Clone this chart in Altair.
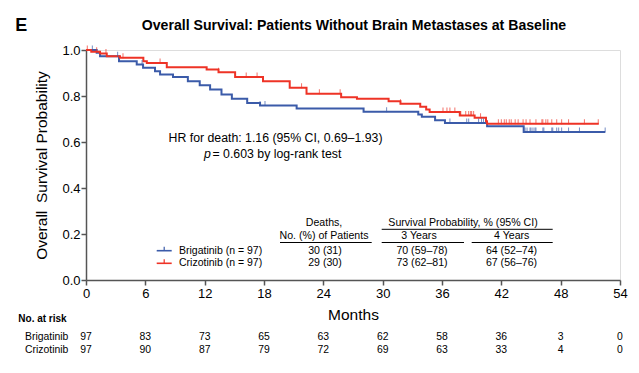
import altair as alt
import pandas as pd

# ---------------- data ----------------
series = ["Brigatinib", "Crizotinib"]
colors = ["#3b5ba9", "#ee3326"]

brig_months = [0, 1.08, 1.42, 3.34, 5.13, 5.77, 6.98, 7.49, 8.8, 10.3, 11.5, 12.55, 13.7,
               14.75, 16.3, 17.6, 21.3, 28.07, 33.6, 33.96, 35.3, 36.3, 40.56, 44.26, 52.5]
brig_surv = [1.0, 0.988, 0.973, 0.951, 0.937, 0.923, 0.908, 0.893, 0.883, 0.864, 0.847, 0.828,
             0.807, 0.788, 0.770, 0.759, 0.746, 0.731, 0.720, 0.710, 0.695, 0.683, 0.669, 0.643, 0.643]

criz_months = [0, 0.53, 1.42, 2.1, 3.44, 5.8, 6.15, 8.17, 12.2, 13.4, 15.08, 17.9, 20.6, 22.3,
               25.8, 27.4, 30.6, 31.8, 33.8, 34.4, 34.75, 37.8, 39.3, 40.45, 40.55, 51.85]
criz_surv = [1.0, 0.992, 0.985, 0.973, 0.966, 0.951, 0.944, 0.925, 0.915, 0.903, 0.883, 0.864,
             0.836, 0.810, 0.795, 0.788, 0.777, 0.766, 0.753, 0.741, 0.730, 0.715, 0.705, 0.690,
             0.679, 0.679]

brig_censor = [0.64, 3.2, 5.67, 17.6, 18.1, 30.4, 36.8, 38.5, 38.7, 39.7, 40.0, 40.2, 44.4, 44.6,
               44.9, 45.0, 45.2, 45.4, 45.5, 46.2, 46.3, 47.1, 47.2, 47.6, 47.8, 48.1, 48.8,
               49.9, 52.5]
criz_censor = [0.13, 1.08, 2.02, 3.74, 7.49, 13.4, 16.2, 17.3, 21.8, 23.6, 25.7, 31.8, 36.1, 36.5,
               36.8, 37.3, 37.9, 38.4, 38.7, 38.9, 39.0, 39.2, 39.9, 41.7, 42.0, 42.3, 42.5, 42.8,
               43.0, 43.4, 43.7, 44.2, 44.5, 44.9, 45.5, 46.1, 46.2, 46.5, 46.7, 47.1, 47.6,
               48.1, 48.8, 50.4, 51.8]

x_ticks = [0, 6, 12, 18, 24, 30, 36, 42, 48, 54]
y_ticks = [0.0, 0.1, 0.2, 0.3, 0.4, 0.5, 0.6, 0.7, 0.8, 0.9, 1.0]
risk_brig = [97, 83, 73, 65, 63, 62, 58, 36, 3, 0]
risk_criz = [97, 90, 87, 79, 72, 69, 63, 33, 4, 0]

title_text = "Overall Survival: Patients Without Brain Metastases at Baseline"
legend_labels = ["Brigatinib (n = 97)", "Crizotinib (n = 97)"]
deaths = ["30 (31)", "29 (30)"]
yr3 = ["70 (59\u201378)", "73 (62\u201381)"]
yr4 = ["64 (52\u201374)", "67 (56\u201376)"]

FONT = "Liberation Sans"

# ---------------- tables ----------------
curve_df = pd.concat([
    pd.DataFrame({"month": brig_months, "surv": brig_surv, "series": series[0]}),
    pd.DataFrame({"month": criz_months, "surv": criz_surv, "series": series[1]}),
])


def step_value(times, survs, t):
    idx = max(i for i, m in enumerate(times) if m <= t)
    return survs[idx]


censor_df = pd.concat([
    pd.DataFrame({"month": brig_censor,
                  "surv": [step_value(brig_months, brig_surv, t) for t in brig_censor],
                  "series": series[0]}),
    pd.DataFrame({"month": criz_censor,
                  "surv": [step_value(criz_months, criz_surv, t) for t in criz_censor],
                  "series": series[1]}),
])

color = alt.Color("series:N", scale=alt.Scale(domain=series, range=colors), legend=None)

x_enc = alt.X("month:Q",
              scale=alt.Scale(domain=[0, 54], nice=False),
              axis=alt.Axis(values=x_ticks, title="Months", titleFontSize=15.5,
                            titleFontWeight="normal", labelFontSize=13, tickSize=5,
                            labelPadding=2, titlePadding=7, domainColor="#555",
                            tickColor="#555", domainWidth=1.5, tickWidth=1.5, grid=False,
                            labelColor="black", titleColor="black", labelFlush=False))
y_enc = alt.Y("surv:Q",
              scale=alt.Scale(domain=[0, 1], nice=False),
              axis=alt.Axis(values=y_ticks,
                            labelExpr="round(datum.value*10) % 2 == 0 ? format(datum.value, '.1f') : ''",
                            title="Overall\u2002Survival Probability", titleFontSize=15.5,
                            titleFontWeight="normal", labelFontSize=13, tickSize=5,
                            labelPadding=1, titlePadding=12, domainColor="#555",
                            tickColor="#555", domainWidth=1.5, tickWidth=1.5, grid=False,
                            labelColor="black", titleColor="black"))

lines = alt.Chart(curve_df).mark_line(interpolate="step-after", strokeWidth=2).encode(
    x=x_enc, y=y_enc, color=color)

ticks = alt.Chart(censor_df).mark_tick(orient="vertical", size=5, thickness=1, yOffset=-2).encode(
    x="month:Q", y="surv:Q", color=color)


def txt(s, x, y, size=10, weight="normal", align="center", style="normal"):
    return alt.Chart(pd.DataFrame({"t": [s]})).mark_text(
        fontSize=size, fontWeight=weight, align=align, baseline="middle",
        font=FONT, color="black", fontStyle=style).encode(
        x=alt.value(x), y=alt.value(y), text="t:N")


def hline(x1, x2, y, col="black", w=1.0):
    return alt.Chart(pd.DataFrame({"a": [0]})).mark_rule(color=col, strokeWidth=w).encode(
        x=alt.value(x1), x2=alt.value(x2), y=alt.value(y))


def vline(x, y1, y2, col="black", w=1.0):
    return alt.Chart(pd.DataFrame({"a": [0]})).mark_rule(color=col, strokeWidth=w).encode(
        x=alt.value(x), y=alt.value(y1), y2=alt.value(y2))


layers = [lines, ticks]

# title and panel letter
layers.append(txt(title_text, 268, -24, size=14.1, weight="bold"))
layers.append(txt("E", -64.7, -24, size=18, weight="bold"))

# HR annotation
layers.append(txt("HR for death: 1.16 (95% CI, 0.69\u20131.93)", 189.5, 88, size=12.3))
layers.append(txt("p", 118, 104, size=12.3, align="left", style="italic"))
layers.append(txt("= 0.603 by log-rank test", 126.5, 104, size=12.3, align="left"))

# legend
for i in range(2):
    yy = 200.7 + 12.6 * i
    layers.append(hline(70.7, 85.7, yy, col=colors[i], w=1.6))
    layers.append(vline(78.2, yy - 4, yy, col=colors[i], w=1.2))
    layers.append(txt(legend_labels[i], 93, yy, size=10.5, align="left"))

# summary table
TS = 10.6
layers.append(txt("Deaths,", 238, 173.3, size=TS))
layers.append(txt("No. (%) of Patients", 238, 186, size=TS))
layers.append(hline(194, 285.7, 192.5))
layers.append(txt("Survival Probability, % (95% CI)", 377, 173.3, size=TS))
layers.append(hline(295.7, 466.7, 179.3))
layers.append(txt("3 Years", 333, 186, size=TS))
layers.append(hline(295.7, 378, 192.5))
layers.append(txt("4 Years", 425.7, 186, size=TS))
layers.append(hline(385.7, 466.7, 192.5))
for i in range(2):
    yy = 200.7 + 12.6 * i
    layers.append(txt(deaths[i], 239, yy, size=TS))
    layers.append(txt(yr3[i], 336, yy, size=TS))
    layers.append(txt(yr4[i], 425.5, yy, size=TS))

# number at risk
layers.append(txt("No. at risk", -67.7, 269.3, size=10, weight="bold", align="left"))
for i, (name, vals) in enumerate([(series[0], risk_brig), (series[1], risk_criz)]):
    yy = 286.7 + 13.3 * i
    layers.append(txt(name, -61, yy, size=10.4, align="left"))
    rdf = pd.DataFrame({"month": x_ticks, "n": [str(v) for v in vals]})
    layers.append(alt.Chart(rdf).mark_text(fontSize=10.4, font=FONT, color="black",
                                           baseline="middle", align="center").encode(
        x="month:Q", y=alt.value(yy), text="n:N"))

chart = alt.layer(*layers).properties(
    width=534, height=230,
    autosize=alt.AutoSizeParams(type="none"),
    padding={"left": 78, "top": 42, "right": 11, "bottom": 77},
    background="white",
).configure_view(stroke=None).configure(font=FONT)

chart.save("out.html", embed_options={"renderer": "svg", "actions": False})
